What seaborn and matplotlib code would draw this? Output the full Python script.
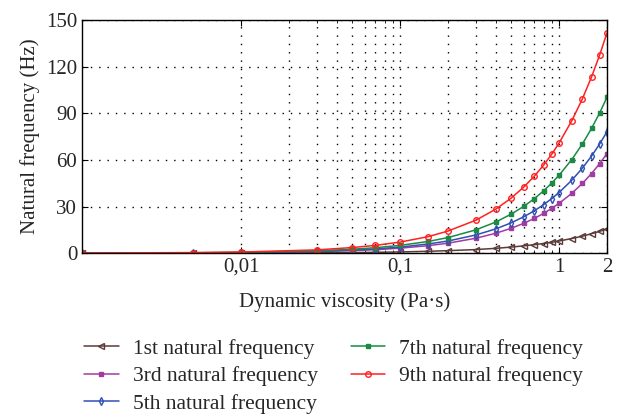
"""Natural frequency vs dynamic viscosity."""

import matplotlib
matplotlib.use("Agg")
import matplotlib.pyplot as plt
import matplotlib.ticker as mticker
import pandas as pd
import seaborn as sns

viscosity = [0.001, 0.005, 0.01, 0.03, 0.05, 0.07, 0.1, 0.15, 0.2, 0.3, 0.4,
             0.5, 0.6, 0.7, 0.8, 0.9, 1.0, 1.2, 1.4, 1.6, 1.8, 2.0]

freq_1st = [0.01, 0.04, 0.08, 0.23, 0.39, 0.55, 0.78, 1.2, 1.6, 2.3, 3.1,
            3.9, 4.7, 5.5, 6.2, 7.0, 7.8, 9.4, 10.9, 12.5, 14.0, 15.6]
freq_3rd = [0.03, 0.16, 0.32, 0.96, 1.6, 2.2, 3.2, 4.8, 6.4, 9.6, 12.8,
            16.0, 19.2, 22.4, 25.6, 28.8, 32.0, 38.4, 44.8, 51.2, 57.6, 64.0]
freq_5th = [0.04, 0.2, 0.39, 1.2, 2.0, 2.7, 3.9, 5.9, 7.8, 11.7, 15.6,
            19.5, 23.4, 27.3, 31.2, 35.1, 39.0, 46.8, 54.6, 62.4, 70.2, 78.0]
freq_7th = [0.05, 0.25, 0.5, 1.5, 2.5, 3.5, 5.0, 7.5, 10.0, 15.0, 20.0,
            25.1, 30.1, 35.1, 40.1, 45.1, 50.1, 60.1, 70.1, 80.2, 90.2, 100.2]
freq_9th = [0.07, 0.36, 0.71, 2.1, 3.6, 5.0, 7.1, 10.6, 14.2, 21.2, 28.3,
            35.4, 42.5, 49.6, 56.6, 63.7, 70.8, 85.0, 99.1, 113.3, 127.4, 141.6]

labels = ["1st natural frequency", "3rd natural frequency", "5th natural frequency",
          "7th natural frequency", "9th natural frequency"]
series = [freq_1st, freq_3rd, freq_5th, freq_7th, freq_9th]
colors = ["#5c3a38", "#a03ca0", "#3050b4", "#1a8a44", "#ff2020"]
markers = ["<", "s", "d", "s", "o"]
filled = [False, True, False, True, False]

x_ticks = [0.01, 0.1, 1, 2]
x_ticklabels = ["0,01", "0,1", "1", "2"]
y_ticks = [0, 30, 60, 90, 120, 150]


def main():
    sns.set_style("ticks")
    plt.rcParams["font.family"] = ["Liberation Serif", "DejaVu Serif"]

    fig = plt.figure(figsize=(6.19, 4.15), dpi=100)
    ax = fig.add_axes([0.1325, 0.39, 0.848, 0.562])

    for lab, vals, col, mk, fill in zip(labels, series, colors, markers, filled):
        df = pd.DataFrame({"x": viscosity, "y": vals})
        sns.lineplot(
            data=df, x="x", y="y", ax=ax, color=col, marker=mk,
            markersize=4 if mk != "s" else 3.5,
            markerfacecolor=col if fill else "none",
            markeredgecolor=col, markeredgewidth=1.0,
            linewidth=1.1, label=lab, legend=False,
        )

    ax.set_xscale("log")
    ax.set_xlim(0.001, 2)
    ax.set_ylim(0, 150)
    ax.xaxis.set_major_locator(mticker.FixedLocator(x_ticks))
    ax.xaxis.set_major_formatter(mticker.FixedFormatter(x_ticklabels))
    minor = [k * 0.01 for k in range(2, 10)] + [k * 0.1 for k in range(2, 10)]
    ax.xaxis.set_minor_locator(mticker.FixedLocator(minor))
    ax.xaxis.set_minor_formatter(mticker.NullFormatter())
    ax.set_yticks(y_ticks)

    ax.grid(which="both", axis="x", color="black", linestyle=(0, (1, 5)), linewidth=1.0)
    ax.grid(which="major", axis="y", color="black", linestyle=(0, (1, 5)), linewidth=1.0)
    ax.tick_params(which="both", direction="in", top=True, right=True,
                   labelsize=15, length=4, color="black")
    ax.tick_params(which="minor", length=2)
    for s in ax.spines.values():
        s.set_color("black")
        s.set_linewidth(1.0)

    ax.set_xlabel("Dynamic viscosity (Pa·s)", fontsize=15, labelpad=11)
    ax.set_ylabel("Natural frequency (Hz)", fontsize=15, labelpad=4)

    handles, labs = ax.get_legend_handles_labels()
    fig.legend(handles, labs, ncol=2, loc="upper left",
               bbox_to_anchor=(0.122, 0.205), frameon=False, fontsize=15.5,
               handlelength=1.6, columnspacing=1.55, labelspacing=0.35,
               handletextpad=0.65, borderaxespad=0)

    fig.savefig("out.png", dpi=100)
    plt.close(fig)


if __name__ == "__main__":
    main()
